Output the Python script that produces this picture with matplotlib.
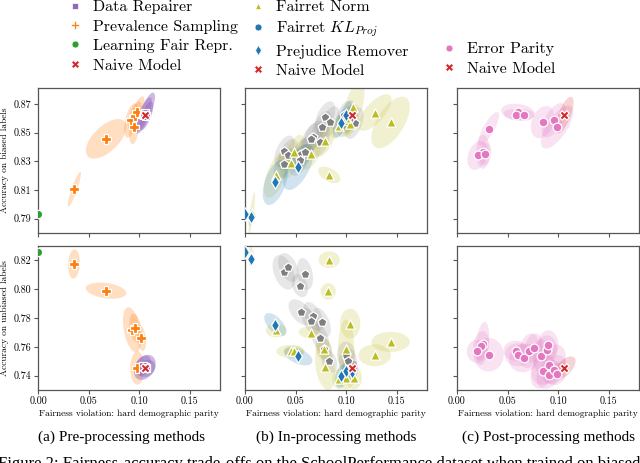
import numpy as np
import matplotlib
matplotlib.use("Agg")
import matplotlib.pyplot as plt
from matplotlib.lines import Line2D

plt.rcParams['font.family'] = 'cmr10'
plt.rcParams['mathtext.fontset'] = 'cm'
plt.rcParams['axes.formatter.use_mathtext'] = True

# each entry: (fairness violation, accuracy, half-width x, half-width y, correlation)
# --- pre-processing, biased labels
lfr_b = [(0.0, 0.793, 0.0, 0.0, 0.0)]
prev_b = [(0.036, 0.8105, 0.0065, 0.0122, 0.9),
          (0.0673, 0.8456, 0.020, 0.0138, 0.6),
          (0.0923, 0.8584, 0.007, 0.012, 0.5),
          (0.095, 0.8538, 0.005, 0.012, 0.3),
          (0.0957, 0.8616, 0.007, 0.010, 0.6),
          (0.0983, 0.8642, 0.007, 0.011, 0.7)]
dr_b = [(0.106, 0.8635, 0.0097, 0.0143, 0.8),
        (0.1045, 0.8625, 0.008, 0.012, 0.8),
        (0.107, 0.8615, 0.007, 0.010, 0.7)]
naive_pre_b = [(0.1056, 0.8621, 0.004, 0.005, 0.5)]
# --- pre-processing, unbiased labels
lfr_u = [(0.0, 0.8256, 0.0, 0.0, 0.0)]
prev_u = [(0.0356, 0.8175, 0.0058, 0.0102, 0.1),
          (0.0673, 0.799, 0.020, 0.0056, -0.3),
          (0.093, 0.7719, 0.009, 0.0156, -0.4),
          (0.0963, 0.7731, 0.006, 0.010, -0.3),
          (0.1023, 0.7661, 0.0045, 0.009, -0.3),
          (0.0983, 0.7453, 0.007, 0.0116, 0.0)]
dr_u = [(0.1056, 0.7457, 0.0108, 0.0087, 0.3),
        (0.104, 0.747, 0.008, 0.007, 0.3),
        (0.107, 0.745, 0.009, 0.006, 0.2)]
naive_pre_u = [(0.1056, 0.7453, 0.004, 0.004, 0.3)]

# --- in-processing, biased labels
kl_b = [(0.0793, 0.8607, 0.010, 0.011, 0.5), (0.0837, 0.8572, 0.010, 0.011, 0.5),
        (0.076, 0.8538, 0.010, 0.011, 0.5), (0.0677, 0.8472, 0.010, 0.011, 0.5),
        (0.065, 0.8454, 0.010, 0.011, 0.5), (0.0743, 0.8435, 0.010, 0.011, 0.5),
        (0.039, 0.8368, 0.010, 0.011, 0.5), (0.0423, 0.8345, 0.010, 0.011, 0.5),
        (0.055, 0.8352, 0.010, 0.011, 0.5), (0.059, 0.8366, 0.010, 0.011, 0.5),
        (0.0543, 0.8308, 0.010, 0.011, 0.5), (0.0383, 0.8282, 0.010, 0.011, 0.5),
        (0.100, 0.8577, 0.009, 0.011, 0.5), (0.1083, 0.8565, 0.009, 0.011, 0.5),
        (0.104, 0.860, 0.008, 0.010, 0.5), (0.098, 0.862, 0.008, 0.010, 0.5)]
norm_b = [(0.1073, 0.8677, 0.011, 0.019, 0.6), (0.1283, 0.8639, 0.0167, 0.0128, 0.7),
          (0.144, 0.857, 0.019, 0.018, 0.6), (0.104, 0.8559, 0.008, 0.009, 0.5),
          (0.0927, 0.8547, 0.008, 0.009, 0.5), (0.100, 0.860, 0.006, 0.007, 0.5),
          (0.0793, 0.8442, 0.010, 0.011, 0.6), (0.0483, 0.8363, 0.010, 0.012, 0.6),
          (0.045, 0.8291, 0.010, 0.011, 0.5), (0.065, 0.8352, 0.010, 0.011, 0.5),
          (0.0307, 0.8205, 0.012, 0.016, 0.6), (0.0833, 0.8205, 0.011, 0.0058, -0.5),
          (0.0067, 0.7938, 0.0033, 0.0147, 0.8)]
prej_b = [(0.100, 0.8623, 0.008, 0.010, 0.6), (0.095, 0.8565, 0.008, 0.010, 0.6),
          (0.0527, 0.8259, 0.015, 0.016, 0.6), (0.030, 0.8152, 0.0125, 0.0157, 0.5),
          (0.0057, 0.791, 0.002, 0.006, 0.5), (0.0, 0.793, 0.002, 0.004, 0.0)]
naive_in_b = [(0.106, 0.8621, 0.004, 0.005, 0.5)]
# --- in-processing, unbiased labels
kl_u = [(0.0383, 0.8117, 0.011, 0.012, -0.4), (0.0427, 0.8151, 0.010, 0.010, -0.4),
        (0.0593, 0.8106, 0.008, 0.011, -0.3), (0.0543, 0.8024, 0.008, 0.008, -0.3),
        (0.055, 0.7839, 0.012, 0.009, -0.5), (0.0677, 0.7811, 0.010, 0.010, -0.5),
        (0.065, 0.7777, 0.009, 0.009, -0.5), (0.076, 0.777, 0.009, 0.010, -0.5),
        (0.0743, 0.7661, 0.009, 0.010, -0.4), (0.0783, 0.7585, 0.008, 0.009, -0.4),
        (0.0833, 0.7499, 0.008, 0.008, -0.3), (0.100, 0.7546, 0.009, 0.009, 0.0),
        (0.1017, 0.7499, 0.009, 0.009, 0.0)]
norm_u = [(0.0057, 0.8234, 0.003, 0.006, 0.0), (0.0833, 0.8205, 0.0105, 0.0058, 0.0),
          (0.0823, 0.7985, 0.0075, 0.0058, 0.0), (0.104, 0.7761, 0.010, 0.0104, 0.0),
          (0.144, 0.7634, 0.019, 0.007, 0.0), (0.1283, 0.7541, 0.016, 0.0076, 0.0),
          (0.065, 0.7696, 0.012, 0.0042, -0.2), (0.0777, 0.7587, 0.008, 0.007, 0.0),
          (0.0793, 0.746, 0.010, 0.016, -0.3), (0.045, 0.7568, 0.014, 0.0045, 0.0),
          (0.0483, 0.7568, 0.010, 0.004, 0.0), (0.0307, 0.7714, 0.010, 0.0049, 0.0),
          (0.100, 0.7587, 0.008, 0.020, 0.0), (0.100, 0.7384, 0.008, 0.008, 0.0),
          (0.1077, 0.7384, 0.008, 0.008, 0.0), (0.0933, 0.7377, 0.007, 0.007, 0.0)]
prej_u = [(0.0, 0.8256, 0.002, 0.004, 0.0), (0.0057, 0.821, 0.002, 0.005, 0.0),
          (0.030, 0.7754, 0.011, 0.008, -0.6), (0.0527, 0.7534, 0.014, 0.0063, -0.5),
          (0.095, 0.7395, 0.006, 0.008, 0.3), (0.100, 0.743, 0.006, 0.008, 0.3),
          (0.1057, 0.7423, 0.006, 0.008, 0.3)]
naive_in_u = [(0.106, 0.7453, 0.005, 0.005, 0.3)]

# --- post-processing
ep_b = [(0.0313, 0.8526, 0.0103, 0.0116, 0.8), (0.0257, 0.8365, 0.0067, 0.0118, 0.0),
        (0.0203, 0.834, 0.010, 0.010, 0.3), (0.028, 0.835, 0.006, 0.008, 0.2),
        (0.0603, 0.8642, 0.0167, 0.0058, -0.2), (0.058, 0.8623, 0.012, 0.004, -0.2),
        (0.0663, 0.8621, 0.010, 0.004, 0.0), (0.0847, 0.8572, 0.0117, 0.0112, 0.3),
        (0.0957, 0.8586, 0.012, 0.012, 0.6), (0.099, 0.8538, 0.016, 0.015, 0.7)]
naive_post_b = [(0.1063, 0.8621, 0.009, 0.0128, 0.7)]
ep_u = [(0.0253, 0.7622, 0.0067, 0.015, 0.3), (0.0237, 0.7608, 0.008, 0.010, 0.2),
        (0.0197, 0.7568, 0.010, 0.008, 0.0), (0.0313, 0.7545, 0.015, 0.0116, 0.0),
        (0.058, 0.7573, 0.012, 0.007, 0.0), (0.0603, 0.7545, 0.013, 0.008, 0.0),
        (0.0663, 0.7523, 0.015, 0.010, 0.1), (0.0713, 0.7573, 0.010, 0.012, 0.2),
        (0.0757, 0.7592, 0.009, 0.010, 0.2), (0.083, 0.7534, 0.008, 0.012, 0.0),
        (0.089, 0.758, 0.010, 0.010, 0.0), (0.0903, 0.7615, 0.010, 0.010, 0.0),
        (0.0847, 0.743, 0.012, 0.012, 0.3), (0.0907, 0.7476, 0.017, 0.014, 0.4),
        (0.0907, 0.7407, 0.012, 0.010, 0.3), (0.0963, 0.7441, 0.012, 0.010, 0.3),
        (0.099, 0.7413, 0.010, 0.008, 0.3)]
naive_post_u = [(0.1063, 0.7453, 0.011, 0.008, 0.6)]

subcaptions = ['(a) Pre-processing methods', '(b) In-processing methods',
               '(c) Post-processing methods']
caption = ('Figure 2: Fairness-accuracy trade-offs on the SchoolPerformance '
           'dataset when trained on biased labels')

C_DR, C_PREV, C_LFR, C_NAIVE = '#9467bd', '#ff7f0e', '#2ca02c', '#d62728'
C_NORM, C_KL, C_PREJ, C_GRAY, C_EP = '#bcbd22', '#1f77b4', '#1f77b4', '#7f7f7f', '#e377c2'


def draw(ax, pts, color, marker, size, alpha=0.25):
    t = np.linspace(0, 2 * np.pi, 120)
    for x, y, hx, hy, r in pts:
        if hx > 0:
            ex = x + hx * np.cos(t)
            ey = y + hy * (r * np.cos(t) + np.sqrt(1 - r * r) * np.sin(t))
            ax.fill(ex, ey, color=color, alpha=alpha, lw=0, zorder=1)
    xs = [p[0] for p in pts]
    ys = [p[1] for p in pts]
    ax.scatter(xs, ys, s=size, c=color, marker=marker, edgecolors='white',
               linewidths=0.9, zorder=3)


fig = plt.figure(figsize=(6.4, 4.63), dpi=100)
W, H = 640, 463
lefts = [38, 245, 457]
tops = [88, 246]
bottoms = [233, 390]
axes = [[None] * 3 for _ in range(2)]
for r in range(2):
    for c in range(3):
        ax = fig.add_axes([lefts[c] / W, 1 - bottoms[r] / H, 182 / W, (bottoms[r] - tops[r]) / H])
        axes[r][c] = ax

draw(axes[0][0], prev_b, C_PREV, 'P', 55)
draw(axes[0][0], dr_b, C_DR, 's', 36, 0.45)
draw(axes[0][0], lfr_b, C_LFR, 'o', 36)
draw(axes[0][0], naive_pre_b, C_NAIVE, 'X', 45)
draw(axes[1][0], prev_u, C_PREV, 'P', 55)
draw(axes[1][0], dr_u, C_DR, 's', 36, 0.45)
draw(axes[1][0], lfr_u, C_LFR, 'o', 36)
draw(axes[1][0], naive_pre_u, C_NAIVE, 'X', 45)

draw(axes[0][1], kl_b, C_GRAY, 'p', 45, 0.18)
draw(axes[0][1], norm_b, C_NORM, '^', 45, 0.2)
draw(axes[0][1], prej_b, C_PREJ, 'd', 45, 0.2)
draw(axes[0][1], naive_in_b, C_NAIVE, 'X', 45)
draw(axes[1][1], kl_u, C_GRAY, 'p', 45, 0.18)
draw(axes[1][1], norm_u, C_NORM, '^', 45, 0.2)
draw(axes[1][1], prej_u, C_PREJ, 'd', 45, 0.2)
draw(axes[1][1], naive_in_u, C_NAIVE, 'X', 45)

draw(axes[0][2], ep_b, C_EP, 'o', 40, 0.2)
draw(axes[0][2], naive_post_b, C_NAIVE, 'X', 45, 0.2)
draw(axes[1][2], ep_u, C_EP, 'o', 40, 0.2)
draw(axes[1][2], naive_post_u, C_NAIVE, 'X', 45, 0.2)

for r in range(2):
    for c in range(3):
        ax = axes[r][c]
        ax.set_xlim(0.0, 0.18)
        ax.set_xticks([0.0, 0.05, 0.10, 0.15])
        if r == 0:
            ax.set_ylim(0.780, 0.881)
            ax.set_yticks([0.79, 0.81, 0.83, 0.85, 0.87])
            ax.set_xticklabels([])
        else:
            ax.set_ylim(0.730, 0.830)
            ax.set_yticks([0.74, 0.76, 0.78, 0.80, 0.82])
            ax.set_xticklabels(['0.00', '0.05', '0.10', '0.15'])
            ax.set_xlabel('Fairness violation: hard demographic parity', fontsize=6.8, labelpad=2)
        if c == 0:
            ax.set_yticklabels(['%.2f' % v for v in ax.get_yticks()])
        else:
            ax.set_yticklabels([])
        ax.tick_params(labelsize=7.2, length=3, width=0.8, color='#555555', pad=2)
        for s in ax.spines.values():
            s.set_color('#555555')
            s.set_linewidth(0.9)

axes[0][0].set_ylabel('Accuracy on biased labels', fontsize=6.8, labelpad=3)
axes[1][0].set_ylabel('Accuracy on unbiased labels', fontsize=6.8, labelpad=3)


def handle(color, marker, ms=5):
    return Line2D([], [], ls='', marker=marker, color=color, markersize=ms,
                  markeredgecolor='white', markeredgewidth=0.5)


leg_kw = dict(frameon=False, fontsize=11.5, handlelength=1.0, handletextpad=0.65,
              labelspacing=0.33, borderpad=0, borderaxespad=0, loc='upper left')
fig.legend([handle(C_DR, 's'), handle(C_PREV, 'P', 5.5), handle(C_LFR, 'o'), handle(C_NAIVE, 'X', 5.5)],
           ['Data Repairer', 'Prevalence Sampling', 'Learning Fair Repr.', 'Naive Model'],
           bbox_to_anchor=(67 / W, 1 - 0 / H), **leg_kw)
fig.legend([handle(C_NORM, '^'), handle(C_KL, 'o'), handle(C_PREJ, 'd', 5), handle(C_NAIVE, 'X', 5.5)],
           ['Fairret Norm', r'Fairret $KL_{Proj}$', 'Prejudice Remover', 'Naive Model'],
           bbox_to_anchor=(250 / W, 1 - 0 / H), **leg_kw)
fig.legend([handle(C_EP, 'o'), handle(C_NAIVE, 'X', 5.5)],
           ['Error Parity', 'Naive Model'],
           bbox_to_anchor=(441 / W, 1 - 42 / H), **leg_kw)

centers = [122, 336, 548]
for c in range(3):
    fig.text(centers[c] / W, 1 - 437 / H, subcaptions[c], ha='center', va='center',
             fontsize=11, family='Liberation Serif')
fig.text(-2 / W, -5 / H, caption, ha='left', va='baseline', fontsize=12,
         family='Liberation Serif')

fig.savefig('out.png', dpi=100)
